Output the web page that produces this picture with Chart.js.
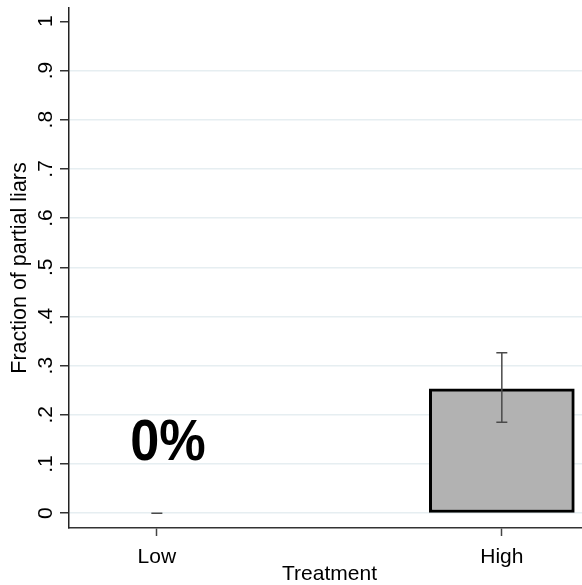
<!DOCTYPE html>
<html>
<head>
<meta charset="utf-8">
<script src="https://cdn.jsdelivr.net/npm/chart.js@4/dist/chart.umd.min.js"></script>
<style>
  html, body { margin: 0; padding: 0; background: #fff; overflow: hidden; }
  #wrap { width: 590px; height: 585px; }
</style>
</head>
<body>
<div id="wrap"><canvas id="c" width="590" height="585"></canvas></div>
<script>
// Treatment groups and their positions on the x axis
const treatments = ['Low', 'High'];
const positions = [1, 2];

// Mean fraction of partial liars and 95% confidence bounds
const fractionPartialLiars = [0, 0.253];
const ciLower = [0, 0.185];
const ciUpper = [0, 0.326];

// Y axis ticks
const yTickValues = [0, 0.1, 0.2, 0.3, 0.4, 0.5, 0.6, 0.7, 0.8, 0.9, 1];
const yTickLabels = ['0', '.1', '.2', '.3', '.4', '.5', '.6', '.7', '.8', '.9', '1'];

const FONT = '"Liberation Sans", Arial, Helvetica, sans-serif';
Chart.defaults.font.family = FONT;
Chart.defaults.font.size = 21;
Chart.defaults.color = '#000';

// Confidence-interval whiskers with short caps
const errorBars = {
  id: 'errorBars',
  afterDatasetsDraw(chart) {
    const { ctx, scales: { x, y } } = chart;
    ctx.save();
    ctx.strokeStyle = '#4a4a4a';
    ctx.lineWidth = 1.5;
    const cap = 5.5;
    positions.forEach((p, i) => {
      const px = x.getPixelForValue(p);
      const top = y.getPixelForValue(ciUpper[i]);
      const bot = y.getPixelForValue(ciLower[i]);
      ctx.beginPath();
      ctx.moveTo(px, top); ctx.lineTo(px, bot);
      ctx.moveTo(px - cap, top); ctx.lineTo(px + cap, top);
      ctx.moveTo(px - cap, bot); ctx.lineTo(px + cap, bot);
      ctx.stroke();
    });
    ctx.restore();
  }
};

// Large percentage note above the empty Low bar
const percentNote = {
  id: 'percentNote',
  afterDatasetsDraw(chart) {
    const { ctx, scales: { x, y } } = chart;
    const txt = Math.round(fractionPartialLiars[0] * 100) + '%';
    ctx.save();
    ctx.translate(x.getPixelForValue(positions[0]) + 11, y.getPixelForValue(0.141));
    ctx.scale(0.9, 1);
    ctx.font = 'bold 58px ' + FONT;
    ctx.fillStyle = '#000';
    ctx.textAlign = 'center';
    ctx.textBaseline = 'middle';
    ctx.fillText(txt, 0, 0);
    ctx.restore();
  }
};

function noEdgePadding(s) {
  s.paddingTop = 0;
  s.paddingBottom = 0;
  s.paddingLeft = 0;
  s.paddingRight = 0;
}

new Chart(document.getElementById('c'), {
  type: 'bar',
  data: {
    datasets: [{
      data: positions.map((p, i) => ({ x: p, y: fractionPartialLiars[i] })),
      backgroundColor: '#b2b2b2',
      borderColor: '#000',
      borderWidth: 3,
      borderSkipped: false,
      barThickness: 145
    }]
  },
  options: {
    responsive: false,
    animation: false,
    devicePixelRatio: 1,
    layout: { padding: { top: 8, left: 0, right: 0, bottom: 0 } },
    plugins: { legend: { display: false }, tooltip: { enabled: false } },
    scales: {
      x: {
        type: 'linear',
        offset: false,
        min: 0.7453,
        max: 2.2556,
        afterBuildTicks(s) { s.ticks = positions.map(v => ({ value: v })); },
        afterFit(s) { s.height = 57; noEdgePadding(s); },
        ticks: {
          autoSkip: false,
          maxRotation: 0,
          padding: 9,
          color: '#000',
          font: { size: 21 },
          callback: (v) => treatments[positions.indexOf(v)]
        },
        grid: { offset: false, drawOnChartArea: false, drawTicks: true, tickLength: 8, tickColor: '#444', tickWidth: 1.5 },
        border: { color: '#333', width: 1.5 },
        title: {
          display: true,
          text: 'Treatment',
          color: '#000',
          font: { size: 21, lineHeight: 1 },
          padding: { top: 0, bottom: 0 }
        }
      },
      y: {
        min: -0.03,
        max: 1.027,
        afterBuildTicks(s) { s.ticks = yTickValues.map(v => ({ value: v })); },
        afterFit(s) { s.width = 69; noEdgePadding(s); },
        ticks: {
          autoSkip: false,
          minRotation: 90,
          maxRotation: 90,
          crossAlign: 'center',
          padding: 5,
          color: '#000',
          font: { size: 21 },
          callback: (v) => yTickLabels[yTickValues.findIndex(t => Math.abs(t - v) < 1e-9)]
        },
        grid: {
          color: (c) => (c.tick && Math.abs(c.tick.value - 1) < 1e-9) ? 'rgba(0,0,0,0)' : '#e6eef1',
          lineWidth: 1.5,
          drawTicks: true,
          tickLength: 9,
          tickColor: '#333',
          tickWidth: 1.5
        },
        border: { color: '#222', width: 1.5 },
        title: {
          display: true,
          text: 'Fraction of partial liars',
          color: '#000',
          font: { size: 21.5 },
          padding: { top: 7, bottom: 0 }
        }
      }
    }
  },
  plugins: [errorBars, percentNote]
});
</script>
</body>
</html>
